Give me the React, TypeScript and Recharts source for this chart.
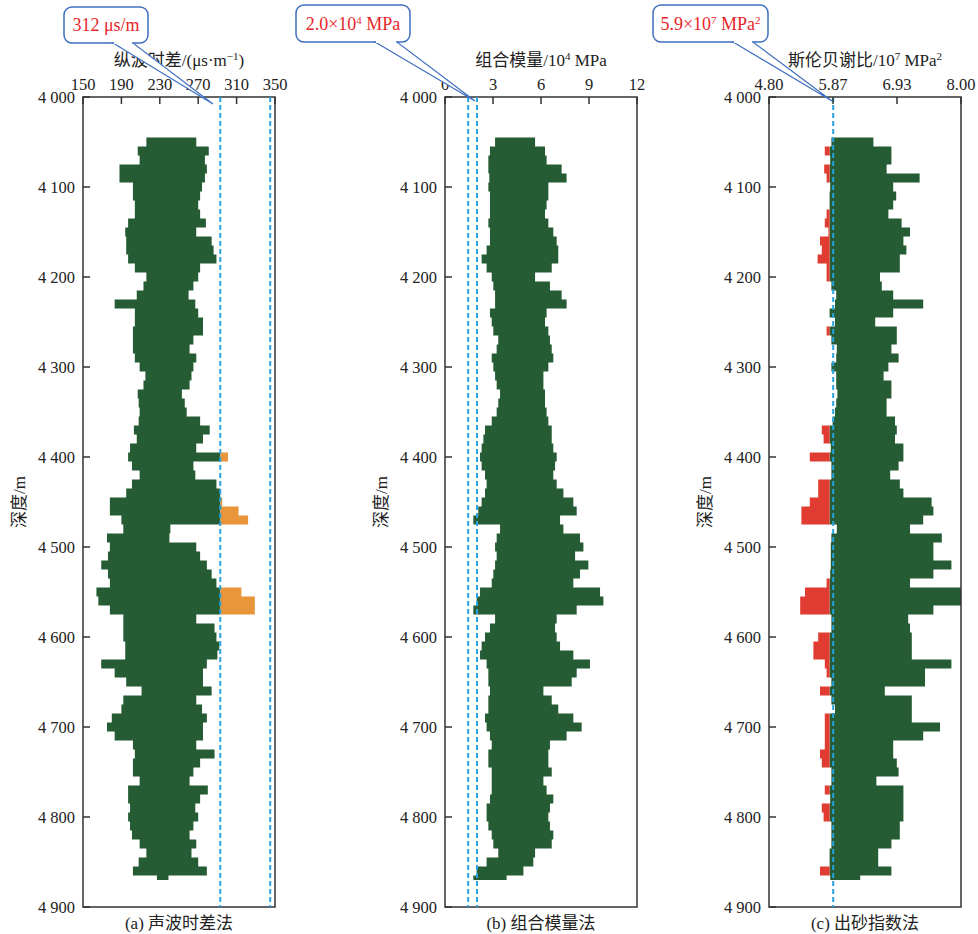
import { Area, ComposedChart, ReferenceArea, ReferenceLine, XAxis, YAxis } from "recharts"

const FONT = '"Liberation Serif", "Noto Sans CJK SC", serif'
const GREEN = "#255c34"
const ORANGE = "#e9963a"
const RED = "#e03c31"
const DASH = "#29a3dc"
const BOX = "#3f6fc0"
const NOTE = "#e8262a"

// depth bins, 10 m each, starting at 4045 m
const aLeft = [
  216, 207, 209, 188, 188, 202, 202, 204, 204, 197,
  194, 195, 195, 197, 204, 216, 213, 206, 183, 204,
  204, 202, 202, 202, 204, 209, 215, 213, 207, 208,
  209, 208, 203, 206, 199, 197, 201, 209, 201, 195,
  178, 178, 190, 192, 175, 178, 176, 169, 176, 178,
  164, 166, 178, 192, 192, 192, 194, 194, 169, 183,
  195, 211, 192, 190, 180, 175, 183, 202, 204, 202,
  202, 209, 197, 197, 199, 197, 199, 201, 209, 216,
  208, 202, 227,
]
const aRight = [
  268, 281, 277, 279, 277, 274, 272, 270, 272, 278,
  268, 284, 286, 289, 272, 270, 265, 260, 267, 270,
  275, 275, 265, 261, 268, 265, 263, 261, 253, 256,
  258, 272, 282, 275, 268, 301, 265, 267, 289, 293,
  295, 312, 322, 241, 240, 268, 272, 279, 284, 289,
  315, 329, 329, 268, 287, 289, 292, 290, 279, 275,
  275, 284, 268, 274, 279, 275, 275, 268, 287, 272,
  265, 261, 280, 272, 267, 270, 265, 261, 268, 263,
  270, 279, 239,
]
const bLeft = [
  3.13, 2.81, 2.71, 2.71, 2.77, 2.71, 2.81, 2.81, 2.81, 2.71,
  2.81, 2.81, 2.6, 2.29, 2.6, 2.92, 3.02, 3.13, 3.13, 2.81,
  2.92, 3.02, 3.33, 3.23, 2.92, 3.02, 3.13, 3.23, 3.44, 3.33,
  3.23, 2.92, 2.5, 2.4, 2.29, 2.19, 2.29, 2.5, 2.6, 2.5,
  2.29, 2.08, 1.77, 3.44, 3.23, 3.13, 3.23, 3.13, 3.02, 2.92,
  2.19, 1.98, 1.77, 3.13, 2.81, 2.5, 2.29, 2.19, 2.6, 2.71,
  2.71, 2.81, 2.71, 2.71, 2.5, 2.6, 2.81, 2.92, 2.71, 2.71,
  2.92, 2.92, 2.92, 2.81, 2.6, 2.6, 2.71, 2.92, 3.02, 3.33,
  2.6, 1.98, 1.77,
]
const bRight = [
  5.63, 6.25, 6.35, 7.29, 7.6, 6.46, 6.46, 6.35, 6.25, 6.46,
  6.77, 6.98, 7.08, 7.08, 6.67, 5.63, 6.56, 7.29, 7.6, 6.35,
  6.25, 6.46, 6.56, 6.67, 6.77, 6.46, 6.15, 6.15, 6.25, 6.25,
  6.35, 6.46, 6.67, 6.67, 6.77, 6.98, 6.88, 6.77, 6.98, 7.4,
  8.02, 8.23, 7.19, 7.4, 8.44, 8.65, 8.13, 8.96, 8.44, 8.02,
  9.69, 9.9, 8.23, 6.98, 6.88, 6.98, 7.19, 8.02, 9.06, 8.23,
  7.92, 6.15, 6.67, 7.08, 8.02, 8.54, 7.6, 6.56, 6.46, 6.46,
  6.67, 6.15, 6.35, 6.77, 6.56, 6.46, 6.56, 6.77, 6.67, 5.63,
  5.52, 4.9, 3.85,
]
const cLeft = [
  5.84, 5.73, 5.82, 5.72, 5.76, 5.82, 5.81, 5.81, 5.76, 5.73,
  5.79, 5.65, 5.68, 5.61, 5.76, 5.76, 5.84, 5.92, 5.9, 5.81,
  5.9, 5.76, 5.84, 5.93, 5.92, 5.84, 5.92, 5.92, 5.94, 5.92,
  5.9, 5.86, 5.68, 5.71, 5.83, 5.48, 5.84, 5.84, 5.62, 5.62,
  5.48, 5.34, 5.34, 5.93, 5.84, 5.83, 5.83, 5.83, 5.82, 5.76,
  5.4, 5.32, 5.32, 5.84, 5.84, 5.62, 5.54, 5.54, 5.73, 5.76,
  5.84, 5.65, 5.84, 5.9, 5.73, 5.73, 5.73, 5.73, 5.65, 5.68,
  5.84, 5.84, 5.73, 5.82, 5.68, 5.71, 5.84, 5.84, 5.84, 5.81,
  5.81, 5.65, 5.82,
]
const cRight = [
  6.54, 6.84, 6.84, 6.76, 7.31, 6.87, 6.92, 6.87, 6.79, 7.01,
  7.15, 7.04, 7.09, 6.98, 6.98, 6.65, 6.68, 6.87, 7.37, 6.87,
  6.57, 6.93, 6.93, 6.84, 6.96, 6.79, 6.71, 6.84, 6.84, 6.76,
  6.76, 6.9, 6.93, 6.9, 7.04, 7.04, 6.96, 6.82, 6.98, 7.04,
  7.51, 7.54, 7.37, 7.15, 7.68, 7.54, 7.54, 7.84, 7.54, 7.15,
  8.0, 8.0, 7.54, 7.12, 7.15, 7.18, 7.18, 7.18, 7.84, 7.4,
  7.4, 6.73, 7.18, 7.18, 7.18, 7.65, 7.37, 6.87, 6.87, 6.93,
  6.96, 6.59, 7.04, 7.04, 7.04, 7.04, 6.98, 6.98, 6.84, 6.62,
  6.62, 6.84, 6.32,
]

const depths = aLeft.map((_, i) => 4045 + i * 10)
const depthTicks = [4000, 4100, 4200, 4300, 4400, 4500, 4600, 4700, 4800, 4900]
const aTicks = [150, 190, 230, 270, 310, 350]
const bTicks = [0, 3, 6, 9, 12]
const cTicks = [4.8, 4.8 + 3.2 / 3, 4.8 + 6.4 / 3, 8]

const A_CUT = 293 // orange beyond this
const C_CUT = 5.81 // red left of this

const rows: any[] = depths.map((depth, i) => ({
  depth,
  aGreen: [aLeft[i], Math.min(aRight[i], A_CUT)],
  aOrange: [A_CUT, Math.max(aRight[i], A_CUT)],
  bGreen: [bLeft[i], bRight[i]],
  cGreen: [Math.max(cLeft[i], C_CUT), cRight[i]],
  cRed: [Math.min(cLeft[i], C_CUT), C_CUT],
}))
rows.push({ ...rows[rows.length - 1], depth: 4870 })

const fmtDepth = (v: number) => `${Math.floor(v / 1000)} ${String(v % 1000).padStart(3, "0")}`

function Tick({ x, y, payload, textAnchor, verticalAnchor, fmt }: any) {
  return (
    <text
      x={x}
      y={y}
      dy={verticalAnchor === "middle" ? 5.5 : 0}
      textAnchor={textAnchor}
      fill="#222"
      fontSize={16.5}
      fontFamily={FONT}
    >
      {fmt(payload.value)}
    </text>
  )
}

function Panel({ left, domain, ticks, fmt, series, dashes }: any) {
  return (
    <div style={{ position: "absolute", left, top: 0 }}>
      <ComposedChart
        width={290}
        height={934}
        layout="vertical"
        data={rows}
        margin={{ top: 0, right: 15, bottom: 27, left: 0 }}
      >
        <XAxis
          type="number"
          orientation="top"
          domain={domain}
          ticks={ticks}
          height={97}
          axisLine={false}
          tickSize={-7}
          tickMargin={14}
          tickLine={{ stroke: "#333", strokeWidth: 1.5 }}
          tick={(p: any) => <Tick {...p} fmt={fmt} />}
          interval={0}
        />
        <YAxis
          type="number"
          dataKey="depth"
          domain={[4000, 4900]}
          ticks={depthTicks}
          width={83}
          axisLine={false}
          tickSize={-7}
          tickMargin={15}
          tickLine={{ stroke: "#333", strokeWidth: 1.5 }}
          tick={(p: any) => <Tick {...p} fmt={fmtDepth} />}
          interval={0}
        />
        {series.map((s: any) => (
          <Area
            key={s.key}
            dataKey={s.key}
            type="stepBefore"
            stroke="none"
            fill={s.color}
            fillOpacity={1}
            dot={false}
            activeDot={false}
            isAnimationActive={false}
          />
        ))}
        {dashes.map((x: number) => (
          <ReferenceLine key={x} x={x} stroke={DASH} strokeWidth={2} strokeDasharray="5 3" />
        ))}
        <ReferenceArea
          x1={domain[0]}
          x2={domain[1]}
          y1={4000}
          y2={4900}
          fill="none"
          stroke="#333"
          strokeWidth={1.5}
          fillOpacity={0}
        />
      </ComposedChart>
    </div>
  )
}

function Callout({ x, y, w, h, a, b, tip, children }: any) {
  return (
    <g>
      <rect x={x} y={y} width={w} height={h} rx={8} fill="#fff" stroke={BOX} strokeWidth={1.5} />
      <polygon points={`${a},${y + h} ${tip[0]},${tip[1]} ${b},${y + h}`} fill="#fff" stroke={BOX} strokeWidth={1.2} />
      <line x1={a + 1} y1={y + h} x2={b - 1} y2={y + h} stroke="#fff" strokeWidth={2} />
      <text x={x + w / 2} y={y + h / 2 + 6} textAnchor="middle" fill={NOTE} fontSize={18} fontFamily={FONT}>
        {children}
      </text>
    </g>
  )
}

// superscript followed by normal text
const sup = (t: string, after?: string) => (
  <>
    <tspan dy={-6} fontSize={11}>{t}</tspan>
    {after ? <tspan dy={6}>{after}</tspan> : null}
  </>
)

export default function App() {
  const plotLefts = [83, 445, 769]
  return (
    <div style={{ position: "absolute", left: 0, top: 0, width: 978, height: 934, background: "#fff", fontFamily: FONT }}>
      <Panel
        left={0}
        domain={[150, 350]}
        ticks={aTicks}
        fmt={(v: number) => String(v)}
        series={[
          { key: "aGreen", color: GREEN },
          { key: "aOrange", color: ORANGE },
        ]}
        dashes={[293, 345]}
      />
      <Panel
        left={362}
        domain={[0, 12]}
        ticks={bTicks}
        fmt={(v: number) => String(v)}
        series={[{ key: "bGreen", color: GREEN }]}
        dashes={[1.45, 2.0]}
      />
      <Panel
        left={686}
        domain={[4.8, 8]}
        ticks={cTicks}
        fmt={(v: number) => v.toFixed(2)}
        series={[
          { key: "cGreen", color: GREEN },
          { key: "cRed", color: RED },
        ]}
        dashes={[5.87]}
      />
      <svg width={978} height={934} style={{ position: "absolute", left: 0, top: 0, pointerEvents: "none" }}>
        <g fontFamily={FONT} fontSize={17} fill="#222" textAnchor="middle">
          <text x={179} y={66}>
            纵波时差/(μs·m{sup("−1", ")")}
          </text>
          <text x={541} y={66}>
            组合模量/10{sup("4", " MPa")}
          </text>
          <text x={865} y={66}>
            斯伦贝谢比/10{sup("7", " MPa")}
            {sup("2")}
          </text>
          {plotLefts.map((pl) => (
            <text key={pl} x={pl - 64} y={508} transform={`rotate(-90 ${pl - 64} 502)`}>
              深度/m
            </text>
          ))}
          <text x={179} y={929}>(a) 声波时差法</text>
          <text x={541} y={929}>(b) 组合模量法</text>
          <text x={865} y={929}>(c) 出砂指数法</text>
        </g>
        <Callout x={64} y={7} w={84} h={36} a={113} b={133} tip={[213, 104]}>
          312 μs/m
        </Callout>
        <Callout x={296} y={5} w={114} h={37} a={375} b={397} tip={[475, 101]}>
          2.0×10{sup("4", " MPa")}
        </Callout>
        <Callout x={653} y={5} w={115} h={37} a={733} b={753} tip={[832, 101]}>
          5.9×10{sup("7", " MPa")}
          {sup("2")}
        </Callout>
      </svg>
    </div>
  )
}
